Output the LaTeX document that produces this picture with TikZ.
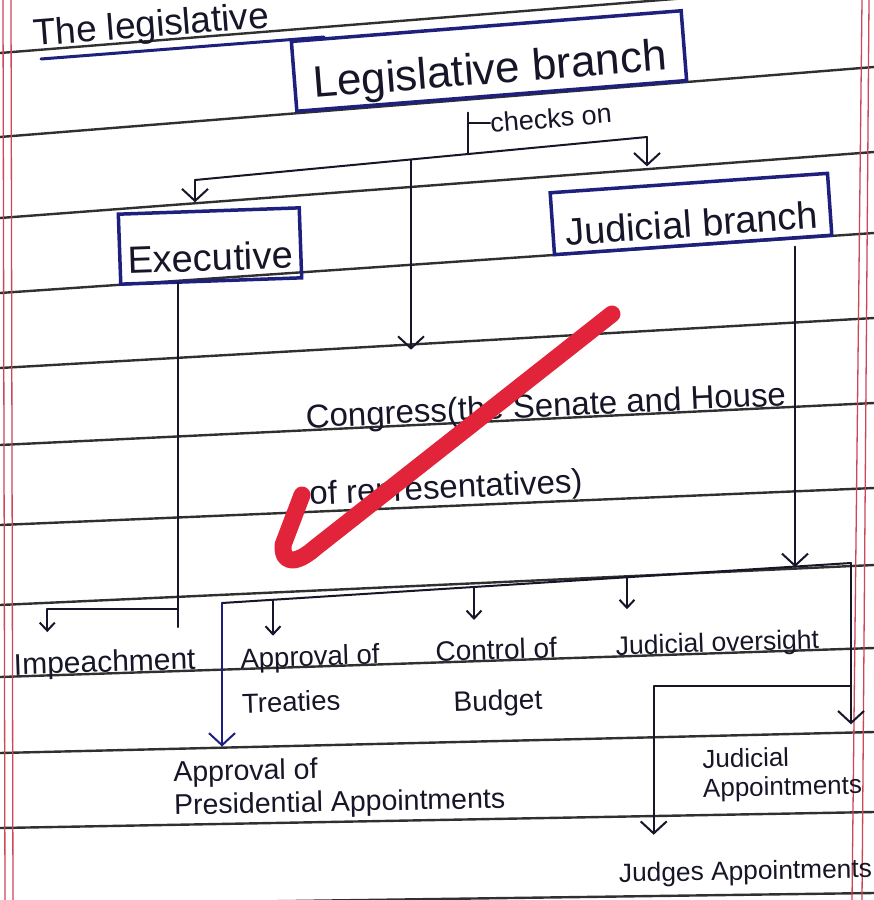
\documentclass[tikz,border=0pt]{standalone}
\usepackage{fontspec}
\setmainfont{Liberation Sans}
\usetikzlibrary{arrows.meta,calc}
\definecolor{ink}{RGB}{22,22,40}
\definecolor{navy}{RGB}{30,32,125}
\definecolor{paper}{RGB}{48,48,48}
\definecolor{marginred}{RGB}{205,70,90}
\definecolor{checkred}{RGB}{226,36,58}
\begin{document}
\begin{tikzpicture}[x=1pt,y=-1pt,
  conn/.style={draw=ink, line width=2pt, line cap=round, line join=round},
  arr/.style={conn, -{Straight Barb[length=12pt,width=26pt]}},
  sarr/.style={conn, -{Straight Barb[length=8pt,width=15pt]}},
  bbox/.style={draw=navy, line width=3.5pt, text=ink, inner sep=2pt, text depth=0pt},
  lab/.style={text=ink, inner sep=0pt},
  pline/.style={draw=paper, line width=2.4pt},
  mline/.style={draw=marginred, line width=1.3pt},
  checkmark/.style={draw=checkred, line width=17pt, line cap=round, line join=round}
]
\useasboundingbox (0,0) rectangle (874,900);
\fill[white] (0,0) rectangle (874,900);

% ruled paper
\foreach \a/\b in {53/-17,137/67,218/152,293/233,368/318,445/403,525/488,605/565,677/648,753/732,828/812,905/893}
  \draw[pline] (0,\a) -- (874,\b);
\draw[mline] (3,0) -- (5,900);
\draw[mline] (11,0) -- (13,900);
\draw[mline] (862,0) -- (852,900);
\draw[mline] (869,0) -- (862,900);

% title
\node[lab, anchor=base west, rotate=4.5, font=\fontsize{37}{40}\selectfont] (title) at (34,46) {The legislative};
\draw[draw=navy, line width=3pt, line cap=round] ($(title.base west)+(7,13)$) -- ($(title.base west)+(290,-9)$);

% boxes
\node[bbox, rotate=4.5, minimum width=391pt, minimum height=70pt, text height=46pt, font=\fontsize{44}{50}\selectfont] (leg) at (489,61) {Legislative branch};
\node[bbox, rotate=2, minimum width=181pt, minimum height=70pt, text height=50pt, font=\fontsize{38}{44}\selectfont] (exec) at (210,246) {Executive};
\node[bbox, rotate=4, minimum width=278pt, minimum height=62pt, text height=46pt, font=\fontsize{38}{44}\selectfont] (jud) at (691,214) {Judicial branch};

% texts
\node[lab, anchor=base west, rotate=5, font=\fontsize{27}{30}\selectfont] (chk) at (491,133) {checks on};
\node[lab, anchor=north west, align=left, rotate=2.7, font=\fontsize{33}{77}\selectfont] (cong) at (305,404) {Congress(the Senate and House\\of representatives)};
\node[lab, anchor=base west, rotate=1.9, font=\fontsize{30}{36}\selectfont] (imp) at (14,675) {Impeachment};
\node[lab, anchor=north west, align=left, rotate=1.9, font=\fontsize{27.5}{45}\selectfont] (treat) at (240,648) {Approval of\\Treaties};
\node[lab, anchor=north west, align=center, rotate=1.9, font=\fontsize{28}{51}\selectfont] (budg) at (435,641) {Control of\\Budget};
\node[lab, anchor=base west, rotate=1.9, font=\fontsize{26.5}{32}\selectfont] (over) at (616,655) {Judicial oversight};
\node[lab, anchor=north west, align=left, rotate=1.2, font=\fontsize{28.5}{33}\selectfont] (pres) at (173,761) {Approval of\\Presidential Appointments};
\node[lab, anchor=north west, align=left, rotate=1.2, font=\fontsize{26}{29}\selectfont] (jap) at (702,749) {Judicial\\Appointments};
\node[lab, anchor=base west, rotate=1, font=\fontsize{26.3}{32}\selectfont] (judges) at (619,882) {Judges Appointments};

% top connectors
\coordinate (trunk) at (468,154);
\coordinate (hl) at (195,180);
\coordinate (hr) at (647,137);
\coordinate (hm) at (411,160);
\draw[conn, shorten <=15pt] (trunk |- leg.south) -- (trunk);
\draw[conn] (trunk |- chk.west) -- (chk.west);
\draw[conn] (hl) -- (hr);
\draw[arr, shorten >=7pt] (hl) -- (hl |- exec.north);
\draw[arr, shorten >=15pt] (hr) -- (hr |- jud.north);
\draw[arr, shorten >=43pt] (hm) -- (hm |- cong.north);

% bottom connectors
\coordinate (bl) at (222,603);
\coordinate (br) at (851,563);
\coordinate (ej) at (178,609);
\coordinate (etail) at (178,627);
\coordinate (tj) at (273,600);
\coordinate (bj) at (474,587);
\coordinate (oj) at (627,577);
\coordinate (jd) at (795,567);
\coordinate (jb) at (851,686);
\draw[conn] (bl) -- (br);
\draw[conn] (ej |- exec.south) -- (etail);
\draw[sarr, shorten >=21pt] (ej) -| ([xshift=34pt]imp.north west);
\draw[arr, draw=navy, shorten >=11pt] (bl) -- (bl |- pres.north);
\draw[sarr, shorten >=10pt] (tj) -- (tj |- treat.north);
\draw[sarr, shorten >=19pt] (bj) -- (bj |- budg.north);
\draw[sarr, shorten >=23pt] (oj) -- (oj |- over.north);
\draw[arr] (jd |- jud.south) -- (jd);
\draw[arr, shorten >=23pt] (br) -- (br |- jap.north);
\draw[arr, shorten >=28pt] (jb) -| ([xshift=35pt]judges.north west);

% red check mark
\draw[checkmark] (612,314) -- (315,548) .. controls (298,563) and (282,566) .. (283,545) -- (302,495);
\end{tikzpicture}
\end{document}
